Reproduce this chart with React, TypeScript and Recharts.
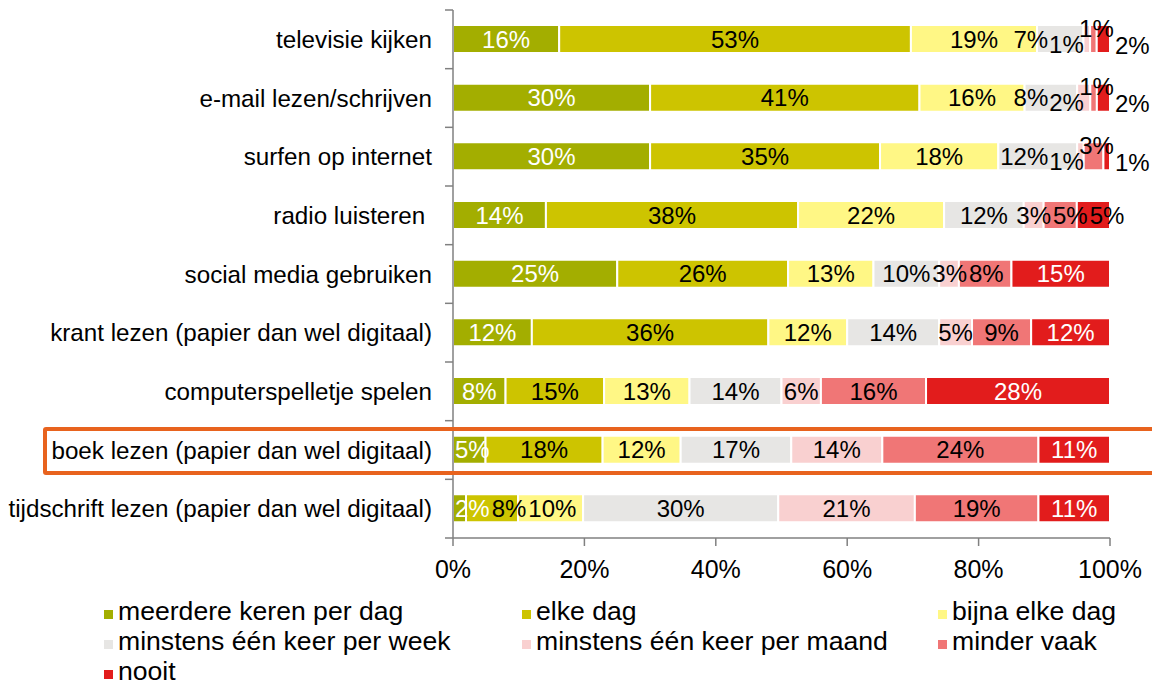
import React from "react";
import { Bar, BarChart, LabelList, XAxis, YAxis } from "recharts";

const categories = [
  "televisie kijken",
  "e-mail lezen/schrijven",
  "surfen op internet",
  "radio luisteren\u00A0",
  "social media gebruiken",
  "krant lezen (papier dan wel digitaal)",
  "computerspelletje spelen",
  "boek lezen (papier dan wel digitaal)",
  "tijdschrift lezen (papier dan wel digitaal)",
];

const meerdereKeren = [16, 30, 30, 14, 25, 12, 8, 5, 2];
const elkeDag = [53, 41, 35, 38, 26, 36, 15, 18, 8];
const bijnaElkeDag = [19, 16, 18, 22, 13, 12, 13, 12, 10];
const perWeek = [7, 8, 12, 12, 10, 14, 14, 17, 30];
const perMaand = [1, 2, 1, 3, 3, 5, 6, 14, 21];
const minderVaak = [1, 1, 3, 5, 8, 9, 16, 24, 19];
const nooit = [2, 2, 1, 5, 15, 12, 28, 11, 11];

const xTicks = [0, 0.2, 0.4, 0.6, 0.8, 1];

const series = [
  { key: "s0", name: "meerdere keren per dag", values: meerdereKeren, color: "#A3AE00" },
  { key: "s1", name: "elke dag", values: elkeDag, color: "#CDC400" },
  { key: "s2", name: "bijna elke dag", values: bijnaElkeDag, color: "#FFF785" },
  { key: "s3", name: "minstens één keer per week", values: perWeek, color: "#E7E6E4" },
  { key: "s4", name: "minstens één keer per maand", values: perMaand, color: "#F9D0D0" },
  { key: "s5", name: "minder vaak", values: minderVaak, color: "#F07676" },
  { key: "s6", name: "nooit", values: nooit, color: "#E21C1C" },
];

const data = categories.map((cat, i) => {
  const row: Record<string, any> = { cat };
  series.forEach((s) => (row[s.key] = s.values[i]));
  return row;
});

const FONT = '"Liberation Sans", Arial, sans-serif';
const AXIS = "#808080";
const LABEL_FS = 24;
const CHART_W = 1152;
const CHART_H = 588;
const MARGIN = { top: 10, right: 42, bottom: 0, left: 0 };
const Y_W = 453;
const X_H = 50;
const BAND = (CHART_H - MARGIN.top - MARGIN.bottom - X_H) / categories.length;

const textW = (v: number) => (String(v).length * 0.556 + 0.889) * LABEL_FS;

// spread labels in a row roughly the way Excel did
function layoutRow(vals: number[], start: number, ppu: number) {
  let acc = start;
  const segs = vals.map((v) => {
    const x0 = acc;
    acc += v * ppu;
    return { x0, x1: acc, w: textW(v) };
  });
  const out = segs.map((s) => ({ cx: (s.x0 + s.x1) / 2, dy: 0 }));
  const tiny = (i: number) => segs[i].x1 - segs[i].x0 < segs[i].w * 0.65;
  if (tiny(4) && tiny(5) && tiny(6)) {
    out[6] = { cx: segs[6].x1 + 5 + segs[6].w / 2, dy: 6 };
    out[5] = { cx: (segs[5].x0 + segs[5].x1) / 2 + 3, dy: -11 };
    out[4] = { cx: out[5].cx - 30, dy: 5 };
    out[3] = {
      cx: Math.min(out[3].cx, out[4].cx - segs[4].w / 2 - 1 - segs[3].w / 2),
      dy: 0,
    };
  } else {
    let minLeft = start + 2;
    out.forEach((o, i) => {
      const half = segs[i].w / 2;
      if (o.cx - half < minLeft) o.cx = minLeft + half;
      minLeft = o.cx + half + 2;
    });
  }
  return { out, segs };
}

const makeLabel = (si: number) => (props: any) => {
  const vb = props.viewBox || props;
  const x = Number(vb.x ?? props.x);
  const y = Number(vb.y ?? props.y);
  const w = Number(vb.width ?? props.width);
  const h = Number(vb.height ?? props.height);
  const idx = props.index;
  if (idx == null || !w) return null;
  const vals = series.map((s) => s.values[idx]);
  const ppu = w / vals[si];
  const start = x - vals.slice(0, si).reduce((a, b) => a + b, 0) * ppu;
  const { out, segs } = layoutRow(vals, start, ppu);
  const pos = out[si];
  let fill = "#000";
  if (si === 0) fill = "#fff";
  if (si === 6) {
    const half = segs[6].w / 2;
    if (pos.cx - half >= segs[6].x0 - 2 && pos.cx + half <= segs[6].x1 + 2) fill = "#fff";
  }
  return (
    <text
      x={pos.cx}
      y={y + h / 2 + pos.dy}
      dy="0.36em"
      textAnchor="middle"
      fill={fill}
      fontSize={LABEL_FS}
      fontFamily={FONT}
    >
      {vals[si]}%
    </text>
  );
};

const CategoryTick = (props: any) => {
  const { x, y, payload, index } = props;
  return (
    <g>
      <line x1={x} x2={x + 8} y1={y - BAND / 2} y2={y - BAND / 2} stroke={AXIS} strokeWidth={1.5} />
      {index === categories.length - 1 && (
        <line x1={x} x2={x + 8} y1={y + BAND / 2} y2={y + BAND / 2} stroke={AXIS} strokeWidth={1.5} />
      )}
      <text x={x - 13} y={y} dy="0.36em" textAnchor="end" fontSize={24.2} fontFamily={FONT} fill="#000">
        {payload.value}
      </text>
    </g>
  );
};

const legendCols = [104, 522, 938];

export default function App() {
  return (
    <div
      style={{
        position: "absolute",
        left: 0,
        top: 0,
        width: 1152,
        height: 683,
        overflow: "hidden",
        background: "#fff",
        fontFamily: FONT,
      }}
    >
      <BarChart
        width={CHART_W}
        height={CHART_H}
        data={data}
        layout="vertical"
        stackOffset="expand"
        margin={MARGIN}
        barSize={28}
      >
        <XAxis
          type="number"
          domain={[0, 1]}
          ticks={xTicks}
          tickFormatter={(v: number) => `${Math.round(v * 100)}%`}
          height={X_H}
          tickSize={8}
          tickMargin={14}
          axisLine={{ stroke: AXIS, strokeWidth: 1.5 }}
          tickLine={{ stroke: AXIS, strokeWidth: 1.5 }}
          tick={{ fill: "#000", fontSize: 25, fontFamily: FONT }}
          interval={0}
        />
        <YAxis
          type="category"
          dataKey="cat"
          width={Y_W}
          tickSize={8}
          tickMargin={0}
          tickLine={false}
          axisLine={{ stroke: AXIS, strokeWidth: 1.5 }}
          tick={<CategoryTick />}
          interval={0}
        />
        {series.map((s, si) => (
          <Bar
            key={s.key}
            dataKey={s.key}
            name={s.name}
            stackId="a"
            fill={s.color}
            stroke="#fff"
            strokeWidth={2}
            isAnimationActive={false}
          >
            <LabelList dataKey={s.key} content={makeLabel(si)} />
          </Bar>
        ))}
      </BarChart>

      {/* legend */}
      {series.map((s, i) => (
        <div
          key={s.key}
          style={{
            position: "absolute",
            left: legendCols[i % 3],
            top: 599 + Math.floor(i / 3) * 30,
            height: 24,
            lineHeight: "24px",
            display: "flex",
            alignItems: "center",
            fontSize: 26.6,
            color: "#000",
            whiteSpace: "nowrap",
          }}
        >
          <span style={{ width: 9, height: 9, background: s.color, marginRight: 5, marginTop: 6 }} />
          {s.name}
        </div>
      ))}

      {/* highlight frame */}
      <div
        style={{
          position: "absolute",
          left: 43,
          top: 427,
          width: 1140,
          height: 40,
          border: "4px solid #E8631E",
          borderRadius: 3,
          pointerEvents: "none",
        }}
      />
    </div>
  );
}
